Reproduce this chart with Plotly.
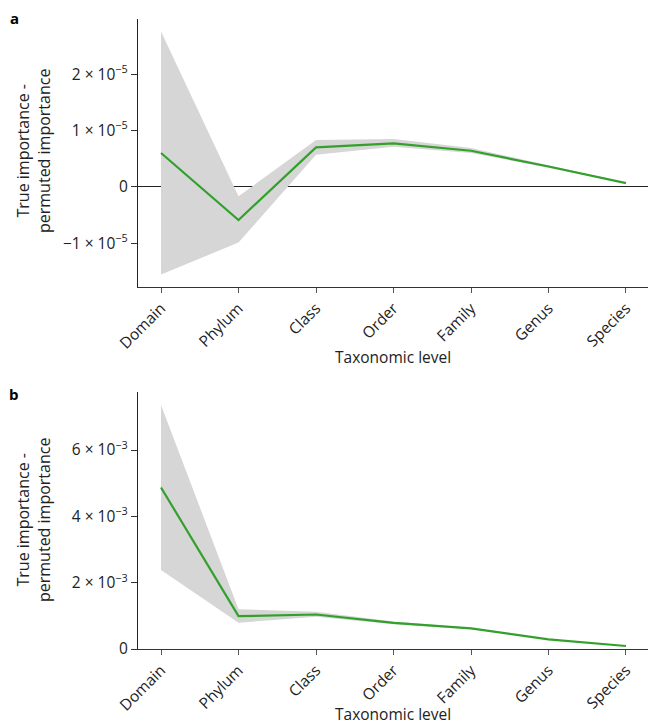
import plotly.graph_objects as go

levels = ["Domain", "Phylum", "Class", "Order", "Family", "Genus", "Species"]

# Panel a
a_mean = [0.60e-5, -0.59e-5, 0.70e-5, 0.77e-5, 0.64e-5, 0.36e-5, 0.066e-5]
a_upper = [2.76e-5, -0.17e-5, 0.83e-5, 0.85e-5, 0.69e-5, 0.38e-5, 0.075e-5]
a_lower = [-1.56e-5, -0.99e-5, 0.57e-5, 0.71e-5, 0.60e-5, 0.34e-5, 0.058e-5]

# Panel b
b_mean = [4.87e-3, 0.99e-3, 1.04e-3, 0.79e-3, 0.62e-3, 0.29e-3, 0.09e-3]
b_upper = [7.36e-3, 1.20e-3, 1.12e-3, 0.83e-3, 0.64e-3, 0.30e-3, 0.095e-3]
b_lower = [2.38e-3, 0.79e-3, 0.97e-3, 0.75e-3, 0.60e-3, 0.28e-3, 0.085e-3]

a_ticks = [-1e-5, 0, 1e-5, 2e-5]
a_ticktext = ["−1 × 10<sup>−5</sup>", "0", "1 × 10<sup>−5</sup>", "2 × 10<sup>−5</sup>"]
b_ticks = [0, 2e-3, 4e-3, 6e-3]
b_ticktext = ["0", "2 × 10<sup>−3</sup>", "4 × 10<sup>−3</sup>", "6 × 10<sup>−3</sup>"]

xlabel = "Taxonomic level"
ylabel = "True importance -<br>permuted importance"

GREEN = "#33a02c"
BAND = "#d6d6d6"
FONT = "Open Sans"
FS = 15.5
x = list(range(len(levels)))

fig = go.Figure()

def add_panel(mean, upper, lower, xa, ya):
    fig.add_trace(go.Scatter(x=x, y=upper, mode="lines", line=dict(width=0),
                             xaxis=xa, yaxis=ya, showlegend=False, hoverinfo="skip"))
    fig.add_trace(go.Scatter(x=x, y=lower, mode="lines", line=dict(width=0),
                             fill="tonexty", fillcolor=BAND,
                             xaxis=xa, yaxis=ya, showlegend=False, hoverinfo="skip"))
    fig.add_trace(go.Scatter(x=x, y=mean, mode="lines", line=dict(color=GREEN, width=2.2),
                             xaxis=xa, yaxis=ya, showlegend=False))

add_panel(a_mean, a_upper, a_lower, "x", "y")
add_panel(b_mean, b_upper, b_lower, "x2", "y2")

xcommon = dict(
    tickmode="array", tickvals=x, ticktext=levels, tickangle=-45,
    range=[-0.297, 6.284], showgrid=False, zeroline=False,
    showline=True, linecolor="#333", linewidth=1.3,
    ticks="outside", ticklen=5, tickcolor="#555", tickwidth=1.3,
    tickfont=dict(family=FONT, size=FS, color="#222"),
)
ycommon = dict(
    showgrid=False, showline=True, linecolor="#222", linewidth=1.3,
    ticks="outside", ticklen=6, tickcolor="#333", tickwidth=1.3,
    tickfont=dict(family=FONT, size=FS, color="#222"),
    tickmode="array",
)

fig.update_layout(
    width=648, height=728,
    margin=dict(l=138, r=0, t=19, b=79),
    plot_bgcolor="white", paper_bgcolor="white",
    font=dict(family=FONT, size=FS, color="#222"),
    xaxis=dict(xcommon, anchor="y"),
    yaxis=dict(ycommon, domain=[0.5746, 1.0], range=[-1.78e-5, 2.98e-5],
               tickvals=a_ticks, ticktext=a_ticktext,
               zeroline=True, zerolinecolor="#222", zerolinewidth=1.2),
    xaxis2=dict(xcommon, anchor="y2"),
    yaxis2=dict(ycommon, domain=[0.0, 0.408], range=[0, 7.75e-3],
                tickvals=b_ticks, ticktext=b_ticktext, zeroline=False),
)

W_plot = 648 - 138
H_plot = 728 - 19 - 79
def px_to_paper(px, py):
    return (px - 138) / W_plot, (728 - 79 - py) / H_plot

for lab, (px, py) in [("a", (14, 18)), ("b", (14, 394))]:
    xp, yp = px_to_paper(px, py)
    fig.add_annotation(text=f"<b>{lab}</b>", x=xp, y=yp, xref="paper", yref="paper",
                       showarrow=False, xanchor="center", yanchor="middle",
                       font=dict(family=FONT, size=15, color="#000"))

for (px, py) in [(33, 151), (33, 520)]:
    xp, yp = px_to_paper(px, py)
    fig.add_annotation(text=ylabel, x=xp, y=yp, xref="paper", yref="paper",
                       showarrow=False, xanchor="center", yanchor="middle", textangle=-90,
                       font=dict(family=FONT, size=FS + 0.5, color="#222"))

for (px, py) in [(393, 370), (393, 727)]:
    xp, yp = px_to_paper(px, py)
    fig.add_annotation(text=xlabel, x=xp, y=yp, xref="paper", yref="paper",
                       showarrow=False, xanchor="center", yanchor="bottom",
                       font=dict(family=FONT, size=FS, color="#222"))

fig.write_html("out.html")
